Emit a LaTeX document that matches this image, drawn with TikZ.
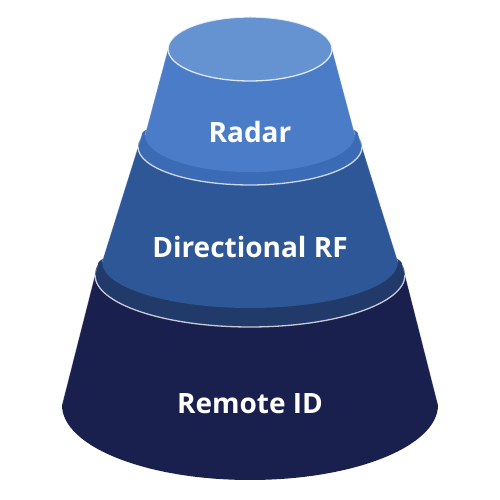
\documentclass[tikz,border=0pt]{standalone}
\usepackage{fontspec}
\setmainfont{Open Sans}
\definecolor{capc}{HTML}{6593D1}
\definecolor{tone}{HTML}{4A7CC8}
\definecolor{rimtwo}{HTML}{3C6BB6}
\definecolor{ttwo}{HTML}{2D5796}
\definecolor{rimthree}{HTML}{213A69}
\definecolor{tthree}{HTML}{19204E}
\tikzset{
  lbl/.style={text=white, font=\fontsize{28}{32}\selectfont\bfseries, inner sep=0pt, anchor=base},
  edgeline/.style={draw=white, draw opacity=0.3, line width=0.7pt},
  rimline/.style={draw=white, draw opacity=0.75, line width=1.3pt},
}
% frustum face: cx, Y1, r1, ry1, Y2, r2, ry2, colour
\newcommand{\myfrustum}[8]{%
  \path[fill=#8] (#1-#3,#2) -- (#1-#6,#5)
    arc[start angle=180,end angle=360,x radius=#6pt,y radius=#7pt]
    -- (#1+#3,#2)
    arc[start angle=0,end angle=180,x radius=#3pt,y radius=#4pt] -- cycle;
  \draw[edgeline] (#1-#3,#2) -- (#1-#6,#5);
  \draw[edgeline] (#1+#3,#2) -- (#1+#6,#5);
}
\begin{document}
\begin{tikzpicture}[x=1pt,y=1pt]
\useasboundingbox[fill=white] (0,0) rectangle (500,500);
% tier 3 (bottom)
\myfrustum{250}{225}{155}{52}{95}{188}{75}{tthree}
% rim on tier 3
\myfrustum{250}{236}{152}{20}{225}{155}{52}{rimthree}
\draw[rimline] (95,225) arc[start angle=180,end angle=360,x radius=155pt,y radius=52pt];
% tier 2
\myfrustum{250}{353}{112}{38}{238}{148}{46}{ttwo}
% rim on tier 2
\myfrustum{250}{366}{108}{15}{353}{112}{38}{rimtwo}
\draw[rimline] (138,353) arc[start angle=180,end angle=360,x radius=112pt,y radius=38pt];
% tier 1
\myfrustum{250}{451}{82}{32}{365}{105}{37}{tone}
% top cap
\path[fill=capc, draw=white, draw opacity=0.8, line width=1.3pt] (250,451) ellipse[x radius=82pt,y radius=32pt];
% labels
\node[lbl] (radar) at (250,357) {Radar};
\node[lbl] (drf) at (250,242) {Directional RF};
\node[lbl] (rid) at (250,86) {Remote ID};
\end{tikzpicture}
\end{document}
